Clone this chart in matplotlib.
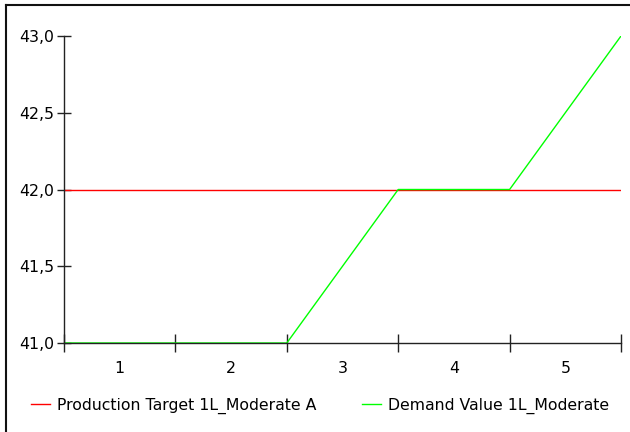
import matplotlib
matplotlib.use("Agg")
import matplotlib.pyplot as plt
from matplotlib.lines import Line2D

# category labels sit between boundary ticks
categories = ["1", "2", "3", "4", "5"]
# values at the category boundaries (0..5)
boundaries = [0, 1, 2, 3, 4, 5]
target = [42.0, 42.0, 42.0, 42.0, 42.0, 42.0]
demand = [41.0, 41.0, 41.0, 42.0, 42.0, 43.0]
yticks = [41.0, 41.5, 42.0, 42.5, 43.0]

plt.rcParams["font.family"] = ["DejaVu Sans"]
fs = 11.3

fig = plt.figure(figsize=(6.3, 4.32), dpi=100)
ax = fig.add_axes([64 / 630, 1 - 343 / 432, (621 - 64) / 630, (343 - 36) / 432])

ax.plot(boundaries, target, color="#ff0000", lw=1.0, label="Production Target 1L_Moderate A")
ax.plot(boundaries, demand, color="#00ff00", lw=1.0, label="Demand Value 1L_Moderate")

ax.set_xlim(0, 5)
ax.set_ylim(41, 43)
ax.set_yticks(yticks)
ax.set_yticklabels([f"{v:.1f}".replace(".", ",") for v in yticks])
ax.set_xticks(boundaries)
ax.set_xticklabels([])
ax.set_xticks([b + 0.5 for b in boundaries[:-1]], minor=True)
ax.set_xticklabels(categories, minor=True)

for s in ["top", "right"]:
    ax.spines[s].set_visible(False)
for s in ["left", "bottom"]:
    ax.spines[s].set_color("#222222")
    ax.spines[s].set_linewidth(1.0)

ax.tick_params(axis="y", direction="inout", length=10, width=1, color="#222222",
               labelsize=fs, pad=2)
ax.tick_params(axis="x", which="major", direction="inout", length=13.5, width=1, color="#222222")
ax.tick_params(axis="x", which="minor", length=0, labelsize=fs, pad=13)
ax.set_clip_on(False)

fig.legend(loc="center", bbox_to_anchor=(0.508, 1 - 406 / 432), ncol=2, frameon=False,
           fontsize=fs, handlelength=1.2, columnspacing=2.9, handletextpad=0.45)

# outer frame (cropped on the right and bottom)
fig.add_artist(Line2D([6 / 630, 6 / 630], [0, 1 - 4.5 / 432], transform=fig.transFigure,
                      color="#111111", lw=1.5))
fig.add_artist(Line2D([6 / 630, 1], [1 - 4.5 / 432, 1 - 4.5 / 432], transform=fig.transFigure,
                      color="#111111", lw=1.5))

fig.savefig("out.png", dpi=100)
